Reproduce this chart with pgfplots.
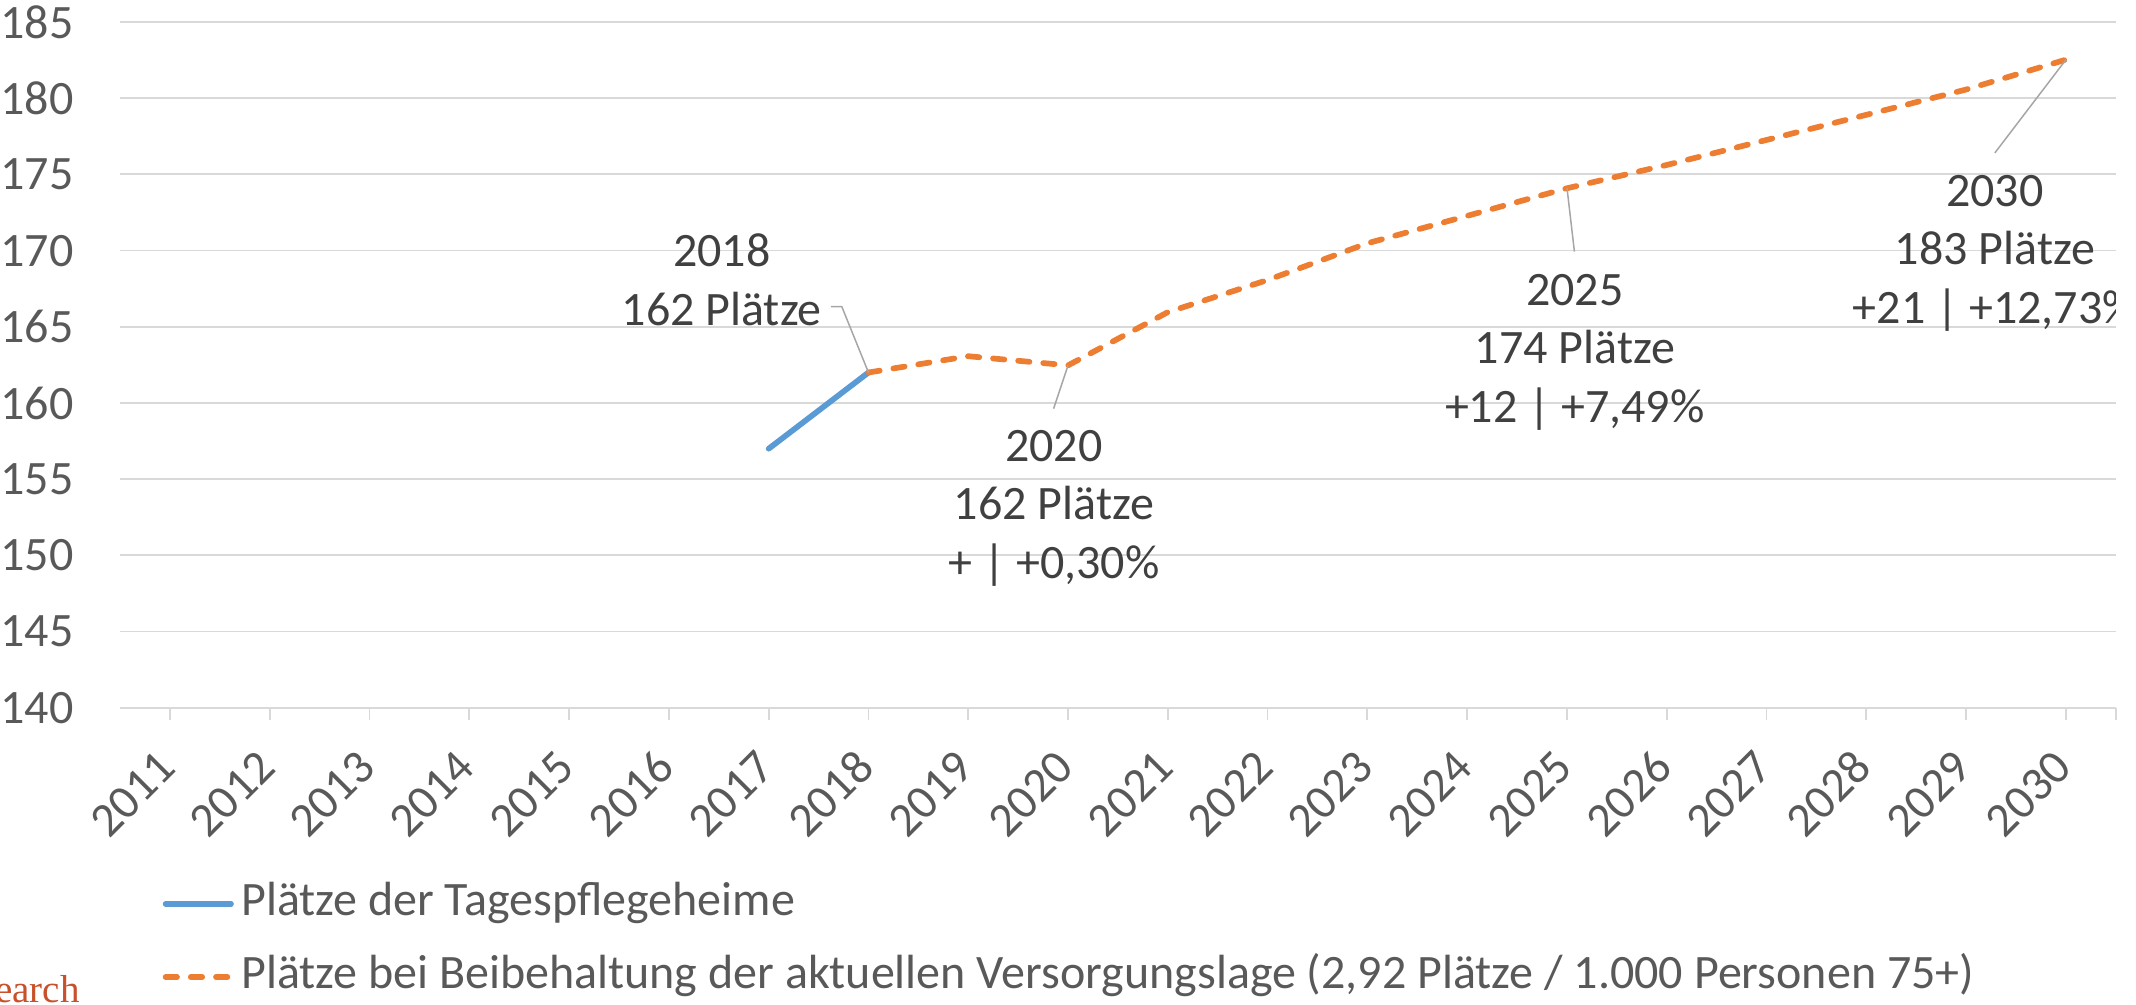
\documentclass[border=0pt]{standalone}
\usepackage{fontspec}
\setmainfont{Carlito}
\newfontfamily\serifwm{Liberation Serif}
\usepackage{pgfplots}
\pgfplotsset{compat=1.18}
\definecolor{txt}{HTML}{595959}
\definecolor{anno}{HTML}{404040}
\definecolor{gridc}{HTML}{D9D9D9}
\definecolor{leader}{HTML}{A6A6A6}
\definecolor{blueL}{HTML}{5B9BD5}
\definecolor{orangeL}{HTML}{ED7D31}
\definecolor{wm}{HTML}{C8502A}
\begin{document}
\begin{tikzpicture}
\begin{axis}[
  at={(0,0)}, anchor=south west,
  scale only axis, width=665.3pt, height=228.6pt,
  xmin=2010.5, xmax=2030.5, ymin=140, ymax=185,
  xtick={2011,...,2030}, ytick={140,145,...,185},
  extra x ticks={2030.5}, extra x tick labels={},
  axis line style={draw=none},
  ymajorgrids, grid style={gridc, line width=0.6pt},
  xtick pos=bottom, tick align=outside, major tick length=4pt,
  xtick style={gridc, line width=0.6pt}, ytick style={draw=none},
  ticklabel style={font=\fontsize{16}{18}\selectfont, text=txt},
  /pgf/number format/assume math mode=true,
  /pgf/number format/1000 sep={},
  xticklabel style={xshift=3pt, yshift=-17pt, rotate=45, anchor=south east, inner sep=0pt},
  yticklabel style={anchor=east, inner sep=0pt, xshift=-11.3pt},
  legend style={at={(axis description cs:0,0)}, anchor=north west, xshift=13.3pt, yshift=-58.1pt,
    draw=none, fill=none, inner sep=0pt, outer sep=0pt, row sep=9.9pt, column sep=1.5pt,
    font=\fontsize{16}{18}\selectfont, text=txt,
    nodes={inner sep=0pt, text height=11pt, text depth=3.5pt}},
  legend cell align=left,
  legend image code/.code={\path (0pt,0pt) (23.7pt,0pt); \draw[#1] (0.95pt,0pt) -- (22.75pt,0pt);},
]
\addplot[blueL, line width=1.9pt, line cap=round] coordinates {(2017,157) (2018,162)};
\addlegendentry{Plätze der Tagespflegeheime}
\addplot[orangeL, line width=1.9pt, line cap=round, dash pattern=on 3.8pt off 4.6pt] coordinates {
  (2018,162) (2019,163.07) (2020,162.47) (2021,165.96) (2022,168.07) (2023,170.48)
  (2024,172.28) (2025,174.09) (2026,175.62) (2027,177.26) (2028,178.91) (2029,180.57) (2030,182.53)};
\addlegendentry{Plätze bei Beibehaltung der aktuellen Versorgungslage (2,92 Plätze / 1.000 Personen 75+)}
% leader lines
\draw[leader, line width=0.5pt] (axis cs:2017.623,166.32) -- (axis cs:2017.733,166.32) -- (axis cs:2018,162);
\draw[leader, line width=0.5pt] (axis cs:2019.855,159.63) -- (axis cs:2020,162.47);
\draw[leader, line width=0.5pt] (axis cs:2025.074,169.93) -- (axis cs:2025,174.09);
\draw[leader, line width=0.5pt] (axis cs:2029.287,176.41) -- (axis cs:2030,182.53);
% data labels
\tikzset{lab/.style={align=center, inner sep=0pt, text=anno, font=\fontsize{16}{19.5}\selectfont}}
\node[lab] at (axis cs:2016.53,168.10) {2018\\162 Plätze};
\node[lab] at (axis cs:2019.858,153.11) {2020\\162 Plätze\\+ | +0,30\%};
\node[lab] at (axis cs:2025.078,163.34) {2025\\174 Plätze\\+12 | +7,49\%};
\node[lab] at (axis cs:2029.287,169.84) {2030\\183 Plätze\\+21 | +12,73\%};
\end{axis}
\node[anchor=base east, inner sep=0pt, text=wm, font=\serifwm\fontsize{13}{13}\selectfont] at (-13.3pt,-98.1pt) {Research};
\pgfresetboundingbox
\useasboundingbox (-40pt,-98.77pt) rectangle (672pt,235.93pt);
\end{tikzpicture}
\end{document}
